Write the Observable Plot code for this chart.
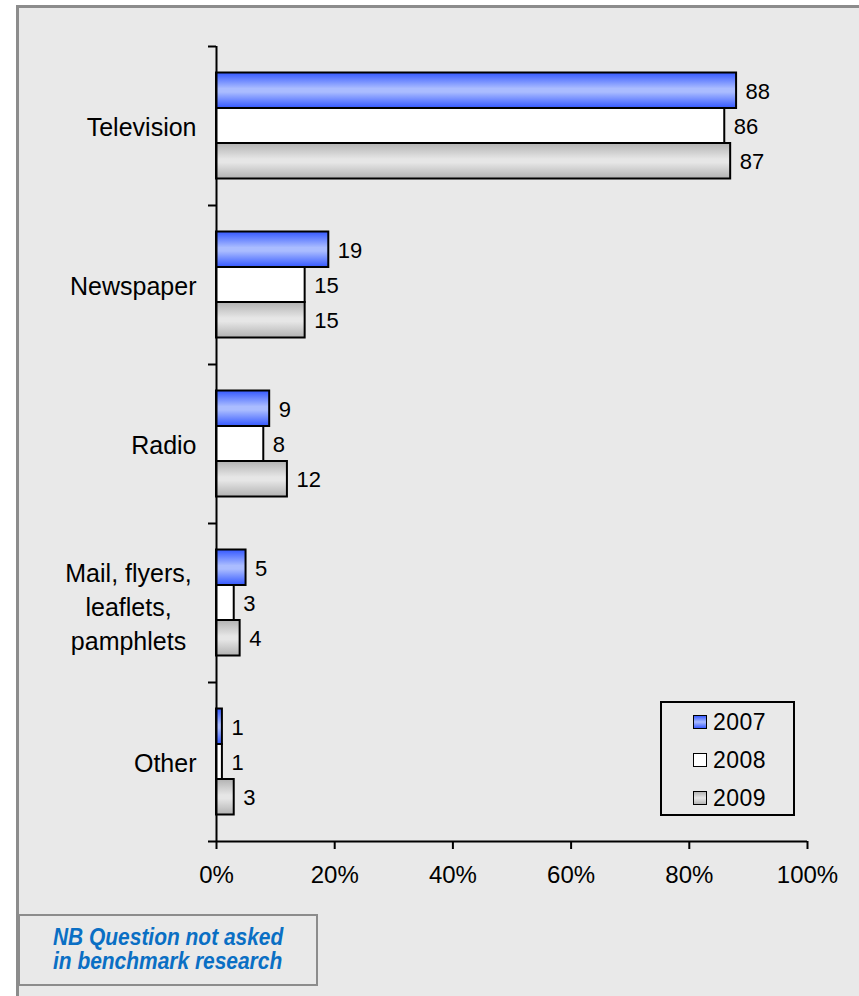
<!DOCTYPE html>
<html>
<head>
<meta charset="utf-8">
<script src="https://cdn.jsdelivr.net/npm/d3@7"></script>
<script src="https://cdn.jsdelivr.net/npm/@observablehq/plot@0.6"></script>
<style>
  html, body { margin: 0; padding: 0; }
  body { width: 859px; height: 996px; position: relative; overflow: hidden; background: #ffffff; }
  #frame { position: absolute; left: 16px; top: 5px; width: 860px; height: 1000px; box-sizing: border-box; border: 3px solid #8c8c8c; background: #e9e9e9; }
  #chart { position: absolute; left: 0; top: 0; }
  #legend { position: absolute; left: 660px; top: 701px; width: 135px; height: 115px; box-sizing: border-box; border: 2px solid #000; font-family: "Liberation Sans", Arial, sans-serif; font-size: 23px; letter-spacing: 0.5px; color: #000; }
  #legend .row { position: absolute; left: 31px; height: 26px; display: flex; align-items: center; }
  #legend .sw { width: 14px; height: 14px; border: 1.5px solid #000; box-sizing: border-box; margin-right: 6px; }
  #note { position: absolute; left: 18px; top: 914px; width: 300px; height: 72px; box-sizing: border-box; border: 2px solid #8c8c8c; }
  #note span { position: absolute; left: 33px; top: 9px; white-space: nowrap; font-family: "Liberation Sans", Arial, sans-serif; font-style: italic; font-weight: bold; font-size: 23px; line-height: 24px; color: #0a6fc4; transform: scaleX(0.91); transform-origin: left top; }
</style>
</head>
<body>
<div id="frame"></div>
<div id="chart"></div>
<div id="legend">
  <div class="row" style="top:6px"><div class="sw" style="background:linear-gradient(#3a5cff,#aabbff 50%,#3a5cff)"></div>2007</div>
  <div class="row" style="top:44px"><div class="sw" style="background:#fff"></div>2008</div>
  <div class="row" style="top:82px"><div class="sw" style="background:linear-gradient(#b4b4b4,#e8e8e8 50%,#b4b4b4)"></div>2009</div>
</div>
<div id="note"><span>NB Question not asked<br>in benchmark research</span></div>
<script>
const categories = ["Television", "Newspaper", "Radio", "Mail, flyers,\nleaflets,\npamphlets", "Other"];
const years = ["2007", "2008", "2009"];
const values2007 = [88, 19, 9, 5, 1];
const values2008 = [86, 15, 8, 3, 1];
const values2009 = [87, 15, 12, 4, 3];
const xTicks = [0, 20, 40, 60, 80, 100];

const series = [
  {year: "2007", vals: values2007, fill: "url(#gBlue)", insetTop: 26.5, insetBottom: 97, dy: -34},
  {year: "2008", vals: values2008, fill: "#ffffff", insetTop: 62, insetBottom: 62, dy: 1},
  {year: "2009", vals: values2009, fill: "url(#gGray)", insetTop: 97, insetBottom: 26.5, dy: 36}
];

const font = "Liberation Sans, Arial, sans-serif";
const marks = [];
for (const s of series) {
  const data = categories.map((c, i) => ({category: c, value: s.vals[i]}));
  marks.push(Plot.barX(data, {x: "value", y: "category", fill: s.fill, stroke: "#000", strokeWidth: 2, insetTop: s.insetTop, insetBottom: s.insetBottom}));
  marks.push(Plot.text(data, {x: "value", y: "category", text: d => String(d.value), dx: 9, dy: s.dy, textAnchor: "start", fontSize: 22, fill: "#000", style: "letter-spacing:0.8px"}));
}
// category labels
const single = categories.filter(c => !c.includes("\n"));
const multi = categories.filter(c => c.includes("\n"));
marks.push(Plot.text(single, {x: 0, y: d => d, text: d => d, textAnchor: "end", dx: -20, dy: 2, fontSize: 25, fill: "#000", style: "letter-spacing:0.6px"}));
marks.push(Plot.text(multi, {x: 0, y: d => d, text: d => d, textAnchor: "middle", dx: -88, dy: 2, fontSize: 25, lineHeight: 1.36, fill: "#000", style: "letter-spacing:0.4px"}));
// y axis line and boundary ticks
marks.push(Plot.ruleX([0], {stroke: "#000", strokeWidth: 2}));
marks.push(Plot.ruleY(categories, {y: d => d, dy: -79.5, insetLeft: -8, insetRight: 591, stroke: "#000", strokeWidth: 2}));
marks.push(Plot.ruleY([categories[categories.length - 1]], {y: d => d, dy: 79.5, insetLeft: -8, stroke: "#000", strokeWidth: 2}));
marks.push(Plot.axisX({ticks: xTicks, tickFormat: d => d + "%", tickSize: 8, tickPadding: 16, fontSize: 24, stroke: "#000", strokeWidth: 2, color: "#000", label: null}));

const chart = Plot.plot({
  width: 859,
  height: 900,
  marginLeft: 216,
  marginRight: 52,
  marginTop: 46,
  marginBottom: 59,
  style: {background: "transparent", fontFamily: font, color: "#000", overflow: "visible"},
  x: {domain: [0, 100]},
  y: {domain: categories, padding: 0, axis: null},
  marks
});

const ns = "http://www.w3.org/2000/svg";
const defs = document.createElementNS(ns, "defs");
function grad(id, edge, mid) {
  const g = document.createElementNS(ns, "linearGradient");
  g.setAttribute("id", id);
  g.setAttribute("x1", "0"); g.setAttribute("y1", "0"); g.setAttribute("x2", "0"); g.setAttribute("y2", "1");
  [[0, edge], [0.45, mid], [0.55, mid], [1, edge]].forEach(([o, c]) => {
    const st = document.createElementNS(ns, "stop");
    st.setAttribute("offset", o); st.setAttribute("stop-color", c);
    g.appendChild(st);
  });
  defs.appendChild(g);
}
grad("gBlue", "#3458ff", "#aabcff");
grad("gGray", "#b2b2b2", "#e6e6e6");
chart.insertBefore(defs, chart.firstChild);
document.getElementById("chart").appendChild(chart);
</script>
</body>
</html>
